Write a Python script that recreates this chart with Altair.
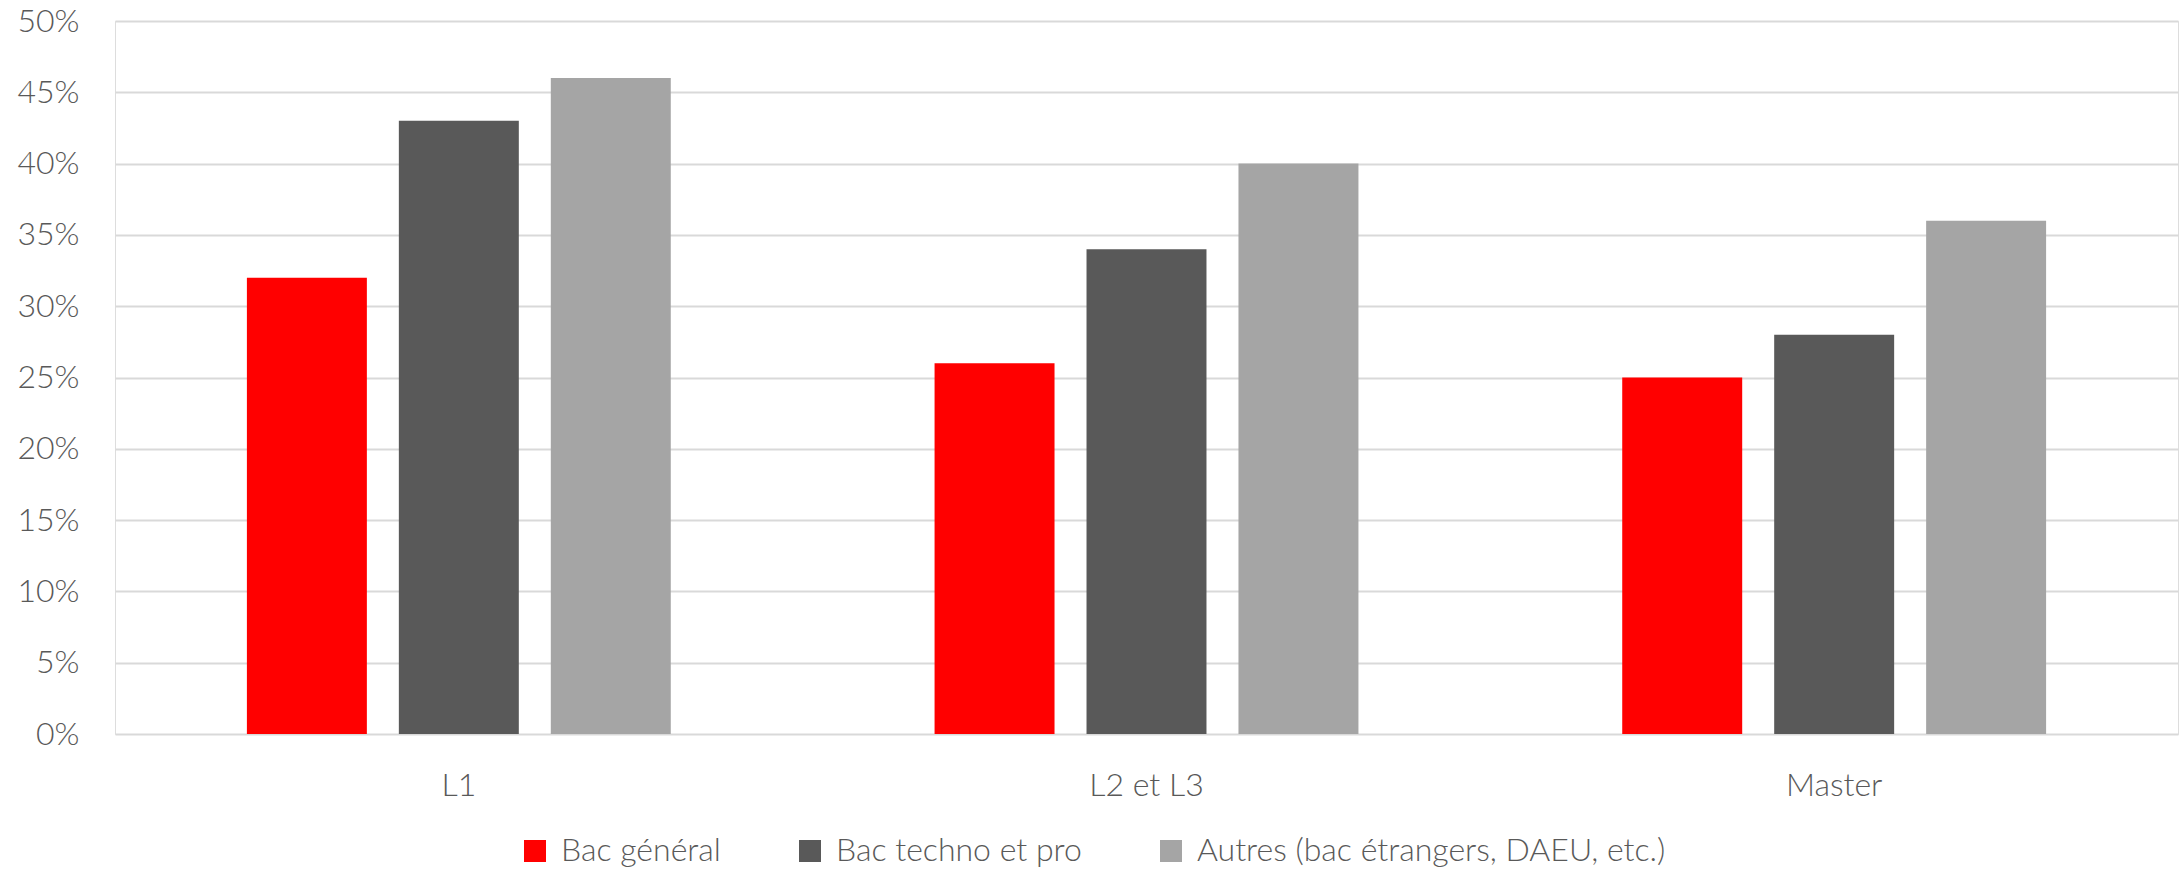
import altair as alt
import pandas as pd

categories = ["L1", "L2 et L3", "Master"]
series = ["Bac général", "Bac techno et pro", "Autres (bac étrangers, DAEU, etc.)"]
bac_general = [0.32, 0.26, 0.25]
bac_techno = [0.43, 0.34, 0.28]
autres = [0.46, 0.40, 0.36]
colors = ["#FF0000", "#595959", "#A5A5A5"]
y_ticks = [0, 0.05, 0.10, 0.15, 0.20, 0.25, 0.30, 0.35, 0.40, 0.45, 0.50]

rows = []
for vals, s in zip([bac_general, bac_techno, autres], series):
    for c, v in zip(categories, vals):
        rows.append({"niveau": c, "serie": s, "valeur": v})
df = pd.DataFrame(rows)

FONT = "Lato"
TXT = "#595959"

chart = alt.Chart(df).mark_bar().encode(
    x=alt.X("niveau:N", sort=categories, title=None,
            scale=alt.Scale(paddingInner=0, paddingOuter=0),
            axis=alt.Axis(labelAngle=0, domain=False, ticks=False,
                          labelFontSize=32, labelColor=TXT, labelFont=FONT,
                          labelFontWeight=300,
                          labelBaseline="middle", labelPadding=51)),
    xOffset=alt.XOffset("serie:N", sort=series,
                        scale=alt.Scale(paddingInner=0.2105, paddingOuter=0.868)),
    y=alt.Y("valeur:Q", title=None,
            scale=alt.Scale(domain=[0, 0.5], nice=False),
            axis=alt.Axis(values=y_ticks, format=".0%", domain=False, ticks=False,
                          grid=True, gridColor="#D9D9D9", gridWidth=2,
                          labelFontSize=32, labelColor=TXT, labelFont=FONT,
                          labelFontWeight=300,
                          labelPadding=36)),
    color=alt.Color("serie:N", sort=series,
                    scale=alt.Scale(domain=series, range=colors),
                    legend=alt.Legend(title=None, orient="none", direction="horizontal",
                                      legendX=404, legendY=814,
                                      symbolType="square", symbolSize=484,
                                      symbolStrokeWidth=0,
                                      labelFontSize=32, labelColor=TXT, labelFont=FONT,
                                      labelFontWeight=300,
                                      labelOffset=10, columnPadding=73,
                                      labelLimit=1000)),
).properties(
    width=2063, height=713,
    autosize=alt.AutoSizeParams(type="none"),
    padding={"left": 115, "top": 21, "right": 5, "bottom": 137},
).configure_view(stroke=None).configure(background="white")

chart.save("out.html", embed_options={"renderer": "svg", "actions": False})
